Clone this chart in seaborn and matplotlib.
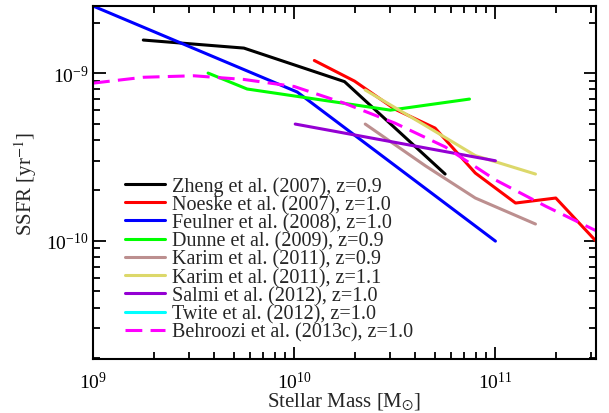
import numpy as np
import pandas as pd
import matplotlib
matplotlib.use("Agg")
import matplotlib.pyplot as plt
from matplotlib.ticker import LogLocator, NullFormatter
from matplotlib.lines import Line2D
import seaborn as sns

# ---- data (log10 values) ----
zheng_logm = [9.25, 9.75, 10.25, 10.75]
zheng_logs = [-8.803, -8.851, -9.051, -9.602]

noeske_logm = [10.1, 10.3, 10.5, 10.7, 10.9, 11.1, 11.3, 11.5]
noeske_logs = [-8.925, -9.048, -9.215, -9.328, -9.596, -9.775, -9.745, -10.002]

feulner_logm = [9.0, 10.015, 11.0]
feulner_logs = [-8.60, -9.113, -10.002]

dunne_logm = [9.572, 9.766, 10.478, 10.871]
dunne_logs = [-9.0, -9.095, -9.221, -9.155]

karim09_logm = [10.353, 10.652, 10.90, 11.199]
karim09_logs = [-9.304, -9.553, -9.745, -9.900]

karim11_logm = [10.353, 10.652, 10.90, 11.199]
karim11_logs = [-9.101, -9.313, -9.492, -9.602]

salmi_logm = [10.005, 11.0]
salmi_logs = [-9.304, -9.523]

twite_logm = []
twite_logs = []

behroozi_logm = [9.0, 9.25, 9.5, 9.75, 10.0, 10.25, 10.5, 10.75, 11.0, 11.25, 11.5]
behroozi_logs = [-9.06, -9.025, -9.016, -9.038, -9.08, -9.18, -9.298, -9.44, -9.637, -9.794, -9.94]

labels = ["Zheng et al. (2007), z=0.9", "Noeske et al. (2007), z=1.0",
          "Feulner et al. (2008), z=1.0", "Dunne et al. (2009), z=0.9",
          "Karim et al. (2011), z=0.9", "Karim et al. (2011), z=1.1",
          "Salmi et al. (2012), z=1.0", "Twite et al. (2012), z=1.0",
          "Behroozi et al. (2013c), z=1.0"]
colors = ["#000000", "#ff0000", "#0000ff", "#00ff00", "#bc8f8f",
          "#dcd86a", "#9400d3", "#00ffff", "#ff00ff"]
series = [(zheng_logm, zheng_logs), (noeske_logm, noeske_logs),
          (feulner_logm, feulner_logs), (dunne_logm, dunne_logs),
          (karim09_logm, karim09_logs), (karim11_logm, karim11_logs),
          (salmi_logm, salmi_logs), (twite_logm, twite_logs),
          (behroozi_logm, behroozi_logs)]

sns.set_style("ticks")
plt.rcParams['font.family'] = ['Liberation Serif', 'DejaVu Serif']
plt.rcParams['mathtext.fontset'] = 'stix'

fig = plt.figure(figsize=(6.09, 4.14), dpi=100)
ax = fig.add_axes([0.1527, 0.1304, 0.8260, 0.8527])

lw = 2.2
handles = []
for lab, col, (lm, ls) in zip(labels, colors, series):
    dashed = lab.startswith("Behroozi")
    if len(lm) > 0:
        df = pd.DataFrame({"mass": 10 ** np.array(lm, float),
                           "ssfr": 10 ** np.array(ls, float)})
        sns.lineplot(data=df, x="mass", y="ssfr", ax=ax, color=col, lw=lw,
                     sort=False, estimator=None, legend=False,
                     dashes=False)
        if dashed:
            ax.lines[-1].set_dashes((5.5, 2.7))
    h = Line2D([], [], color=col, lw=lw)
    if dashed:
        h.set_dashes((5.5, 2.7))
    handles.append(h)

ax.set_xscale("log")
ax.set_yscale("log")
ax.set_xlim(1e9, 10 ** 11.5)
ax.set_ylim(10 ** -10.705, 10 ** -8.6)

ax.xaxis.set_major_locator(LogLocator(base=10, numticks=10))
ax.xaxis.set_minor_locator(LogLocator(base=10, subs=np.arange(2, 10), numticks=20))
ax.yaxis.set_major_locator(LogLocator(base=10, numticks=10))
ax.yaxis.set_minor_locator(LogLocator(base=10, subs=np.arange(2, 10), numticks=20))
ax.xaxis.set_minor_formatter(NullFormatter())
ax.yaxis.set_minor_formatter(NullFormatter())
ax.tick_params(which='both', direction='in', top=True, right=True, width=1.3,
               labelsize=14, colors='black')
ax.tick_params(axis='x', which='major', pad=8.5)
ax.tick_params(axis='y', which='major', pad=3)
ax.tick_params(which='major', length=9)
ax.tick_params(which='minor', length=5)
for s in ax.spines.values():
    s.set_linewidth(1.5)
    s.set_color('black')

ax.set_xlabel(r"Stellar Mass [M$_{\odot}$]", fontsize=15, labelpad=-1)
ax.set_ylabel(r"SSFR [yr$^{-1}$]", fontsize=15, labelpad=5)

leg = ax.legend(handles, labels, loc='upper left', bbox_to_anchor=(0.0636, 0.518),
                frameon=False, fontsize=14.5, handlelength=2.0,
                handletextpad=0.35, labelspacing=-0.05, borderpad=0,
                borderaxespad=0)

fig.savefig("out.png", dpi=100)
